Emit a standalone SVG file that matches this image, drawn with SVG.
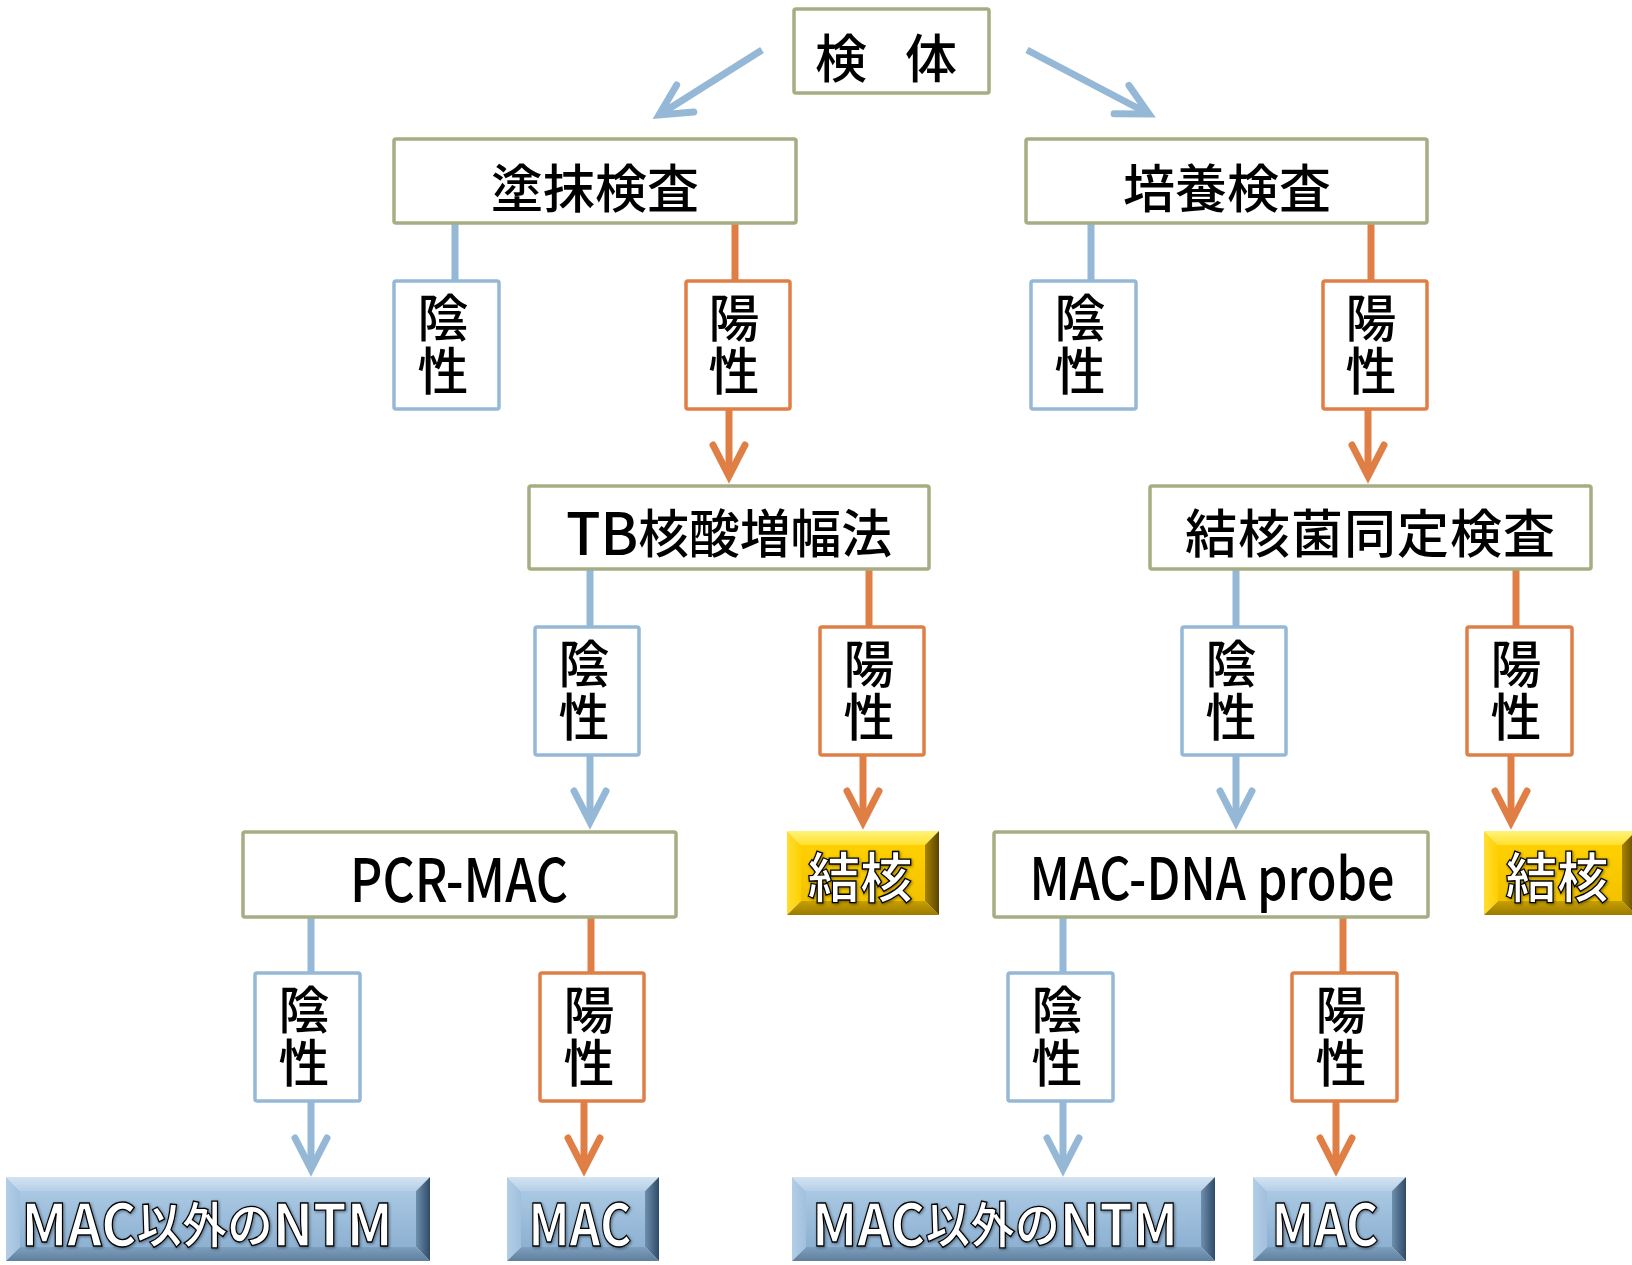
<svg xmlns="http://www.w3.org/2000/svg" width="1632" height="1265" viewBox="0 0 1632 1265">
<style>
.box{fill:#fff;stroke:#A7AD83;stroke-width:3.5}
.neg{fill:#fff;stroke:#95B8D7;stroke-width:3.5}
.pos{fill:#fff;stroke:#E07F45;stroke-width:3.5}
.t{font-family:"Noto Sans CJK JP","Noto Sans",sans-serif;font-weight:500;fill:#000;text-anchor:middle;dominant-baseline:central}
.v{font-family:"Noto Sans CJK JP","Noto Sans",sans-serif;font-weight:500;fill:#000;text-anchor:middle;writing-mode:vertical-rl;font-size:51px;letter-spacing:1.5px}
.lb{stroke:#95B8D7;stroke-width:7;fill:none}
.lo{stroke:#E07F45;stroke-width:7;fill:none}
.bt{font-family:"Noto Sans CJK JP","Noto Sans",sans-serif;font-weight:bold;fill:#fff;stroke:#000;stroke-width:1.3;text-anchor:middle;dominant-baseline:central;filter:url(#sh)}
</style>
<defs>
<marker id="mb" markerUnits="userSpaceOnUse" viewBox="-45 -25 60 50" markerWidth="60" markerHeight="50" refX="0" refY="0" orient="auto" overflow="visible">
<path d="M-31,-16 L0,0 L-31,16" fill="none" stroke="#95B8D7" stroke-width="7" stroke-linecap="round" stroke-linejoin="miter"/>
</marker>
<marker id="mo" markerUnits="userSpaceOnUse" viewBox="-45 -25 60 50" markerWidth="60" markerHeight="50" refX="0" refY="0" orient="auto" overflow="visible">
<path d="M-31,-16 L0,0 L-31,16" fill="none" stroke="#E07F45" stroke-width="7" stroke-linecap="round" stroke-linejoin="miter"/>
</marker>
<filter id="sh" x="-10%" y="-20%" width="120%" height="140%">
<feDropShadow dx="1" dy="1" stdDeviation="1.5" flood-color="#000" flood-opacity="0.45"/>
</filter>
<linearGradient id="bTop" x1="0" y1="0" x2="0" y2="1"><stop offset="0" stop-color="#D3E4F2"/><stop offset="1" stop-color="#B5CFE6"/></linearGradient>
<linearGradient id="bLeft" x1="0" y1="0" x2="1" y2="0"><stop offset="0" stop-color="#B3CEE6"/><stop offset="1" stop-color="#A0C0DD"/></linearGradient>
<linearGradient id="bFace" x1="0" y1="0" x2="0" y2="1"><stop offset="0" stop-color="#A9C8E3"/><stop offset="1" stop-color="#8DB1D2"/></linearGradient>
<linearGradient id="bBot" x1="0" y1="0" x2="0" y2="1"><stop offset="0" stop-color="#7E9FBE"/><stop offset="1" stop-color="#5F7F9E"/></linearGradient>
<linearGradient id="bRight" x1="0" y1="0" x2="1" y2="0"><stop offset="0" stop-color="#6F8FAF"/><stop offset="1" stop-color="#2E4B67"/></linearGradient>
<linearGradient id="yTop" x1="0" y1="0" x2="0" y2="1"><stop offset="0" stop-color="#FFF37A"/><stop offset="1" stop-color="#FFE030"/></linearGradient>
<linearGradient id="yLeft" x1="0" y1="0" x2="1" y2="0"><stop offset="0" stop-color="#FFDD33"/><stop offset="1" stop-color="#FFD000"/></linearGradient>
<linearGradient id="yFace" x1="0" y1="0" x2="0" y2="1"><stop offset="0" stop-color="#FFD000"/><stop offset="1" stop-color="#F2C200"/></linearGradient>
<linearGradient id="yBot" x1="0" y1="0" x2="0" y2="1"><stop offset="0" stop-color="#C8A000"/><stop offset="1" stop-color="#9A7A00"/></linearGradient>
<linearGradient id="yRight" x1="0" y1="0" x2="1" y2="0"><stop offset="0" stop-color="#A88400"/><stop offset="1" stop-color="#5A4500"/></linearGradient>
</defs>

<g id="connectors">
<line class="lb" x1="762" y1="50" x2="659" y2="115" marker-end="url(#mb)"/>
<line class="lb" x1="1027" y1="50" x2="1149" y2="114" marker-end="url(#mb)"/>
<line class="lb" x1="455" y1="223" x2="455" y2="281"/>
<line class="lo" x1="735" y1="223" x2="735" y2="281"/>
<line class="lb" x1="1091" y1="223" x2="1091" y2="281"/>
<line class="lo" x1="1371" y1="223" x2="1371" y2="281"/>
<line class="lo" x1="729" y1="409" x2="729" y2="476" marker-end="url(#mo)"/>
<line class="lo" x1="1368" y1="409" x2="1368" y2="476" marker-end="url(#mo)"/>
<line class="lb" x1="590" y1="569" x2="590" y2="627"/>
<line class="lo" x1="869" y1="569" x2="869" y2="627"/>
<line class="lb" x1="1236" y1="569" x2="1236" y2="627"/>
<line class="lo" x1="1516" y1="569" x2="1516" y2="627"/>
<line class="lb" x1="590" y1="755" x2="590" y2="822" marker-end="url(#mb)"/>
<line class="lo" x1="863" y1="755" x2="863" y2="822" marker-end="url(#mo)"/>
<line class="lb" x1="1236" y1="755" x2="1236" y2="822" marker-end="url(#mb)"/>
<line class="lo" x1="1511" y1="755" x2="1511" y2="822" marker-end="url(#mo)"/>
<line class="lb" x1="311" y1="917" x2="311" y2="973"/>
<line class="lo" x1="591" y1="917" x2="591" y2="973"/>
<line class="lb" x1="1063" y1="917" x2="1063" y2="973"/>
<line class="lo" x1="1343" y1="917" x2="1343" y2="973"/>
<line class="lb" x1="311" y1="1101" x2="311" y2="1169" marker-end="url(#mb)"/>
<line class="lo" x1="584" y1="1101" x2="584" y2="1169" marker-end="url(#mo)"/>
<line class="lb" x1="1063" y1="1101" x2="1063" y2="1169" marker-end="url(#mb)"/>
<line class="lo" x1="1336" y1="1101" x2="1336" y2="1169" marker-end="url(#mo)"/>
</g>

<g id="specimen"><rect class="box" x="794" y="9" width="195" height="84" rx="2"/><text class="t" x="886" y="55" font-size="52" textLength="142" lengthAdjust="spacing">検　体</text></g>
<g id="smear"><rect class="box" x="394" y="139" width="402" height="84" rx="2"/><text class="t" x="595" y="185" font-size="52">塗抹検査</text></g>
<g id="culture"><rect class="box" x="1026" y="139" width="401" height="84" rx="2"/><text class="t" x="1227" y="185" font-size="52">培養検査</text></g>

<g id="smear-neg"><rect class="neg" x="394" y="281" width="105" height="128" rx="2"/><text class="v" x="443" y="345">陰性</text></g>
<g id="smear-pos"><rect class="pos" x="686" y="281" width="104" height="128" rx="2"/><text class="v" x="734" y="345">陽性</text></g>
<g id="culture-neg"><rect class="neg" x="1031" y="281" width="105" height="128" rx="2"/><text class="v" x="1080" y="345">陰性</text></g>
<g id="culture-pos"><rect class="pos" x="1323" y="281" width="104" height="128" rx="2"/><text class="v" x="1371" y="345">陽性</text></g>

<g id="tb-naat"><rect class="box" x="529" y="486" width="400" height="83" rx="2"/><text class="t" x="729" y="530" font-size="52" textLength="326" lengthAdjust="spacingAndGlyphs"><tspan font-size="58">TB</tspan>核酸増幅法</text></g>
<g id="tb-ident"><rect class="box" x="1150" y="486" width="441" height="83" rx="2"/><text class="t" x="1370" y="530" font-size="52" textLength="370" lengthAdjust="spacing">結核菌同定検査</text></g>

<g id="naat-neg"><rect class="neg" x="535" y="627" width="104" height="128" rx="2"/><text class="v" x="584" y="691">陰性</text></g>
<g id="naat-pos"><rect class="pos" x="820" y="627" width="104" height="128" rx="2"/><text class="v" x="869" y="691">陽性</text></g>
<g id="ident-neg"><rect class="neg" x="1182" y="627" width="104" height="128" rx="2"/><text class="v" x="1231" y="691">陰性</text></g>
<g id="ident-pos"><rect class="pos" x="1467" y="627" width="105" height="128" rx="2"/><text class="v" x="1516" y="691">陽性</text></g>

<g id="pcr-mac"><rect class="box" x="243" y="832" width="433" height="85" rx="2"/><text class="t" x="459" y="875" font-size="60" textLength="218" lengthAdjust="spacingAndGlyphs">PCR-MAC</text></g>
<g id="tb-result-1">
<polygon fill="url(#yTop)" points="787,831 939,831 925,845 801,845"/>
<polygon fill="url(#yLeft)" points="787,831 801,845 801,901 787,915"/>
<polygon fill="url(#yBot)" points="787,915 801,901 925,901 939,915"/>
<polygon fill="url(#yRight)" points="939,831 939,915 925,901 925,845"/>
<rect fill="url(#yFace)" x="801" y="845" width="124" height="56"/>
<text class="bt" x="860" y="874" font-size="54" textLength="105" lengthAdjust="spacingAndGlyphs">結核</text>
</g>
<g id="mac-dna"><rect class="box" x="994" y="832" width="434" height="85" rx="2"/><text class="t" x="1212" y="875" font-size="58" textLength="365" lengthAdjust="spacingAndGlyphs">MAC-DNA probe</text></g>
<g id="tb-result-2">
<polygon fill="url(#yTop)" points="1484,831 1636,831 1622,845 1498,845"/>
<polygon fill="url(#yLeft)" points="1484,831 1498,845 1498,901 1484,915"/>
<polygon fill="url(#yBot)" points="1484,915 1498,901 1622,901 1636,915"/>
<polygon fill="url(#yRight)" points="1636,831 1636,915 1622,901 1622,845"/>
<rect fill="url(#yFace)" x="1498" y="845" width="124" height="56"/>
<text class="bt" x="1557" y="874" font-size="54" textLength="103" lengthAdjust="spacingAndGlyphs">結核</text>
</g>

<g id="pcr-neg"><rect class="neg" x="255" y="973" width="105" height="128" rx="2"/><text class="v" x="304" y="1037">陰性</text></g>
<g id="pcr-pos"><rect class="pos" x="540" y="973" width="104" height="128" rx="2"/><text class="v" x="589" y="1037">陽性</text></g>
<g id="probe-neg"><rect class="neg" x="1008" y="973" width="105" height="128" rx="2"/><text class="v" x="1057" y="1037">陰性</text></g>
<g id="probe-pos"><rect class="pos" x="1292" y="973" width="105" height="128" rx="2"/><text class="v" x="1341" y="1037">陽性</text></g>

<g id="ntm-1">
<polygon fill="url(#bTop)" points="6,1177 430,1177 416,1191 20,1191"/>
<polygon fill="url(#bLeft)" points="6,1177 20,1191 20,1247 6,1261"/>
<polygon fill="url(#bBot)" points="6,1261 20,1247 416,1247 430,1261"/>
<polygon fill="url(#bRight)" points="430,1177 430,1261 416,1247 416,1191"/>
<rect fill="url(#bFace)" x="20" y="1191" width="396" height="56"/>
<text class="bt" x="207" y="1221" font-size="58" textLength="371" lengthAdjust="spacingAndGlyphs">MAC<tspan font-size="49">以外の</tspan>NTM</text>
</g>
<g id="mac-1">
<polygon fill="url(#bTop)" points="507,1177 659,1177 645,1191 521,1191"/>
<polygon fill="url(#bLeft)" points="507,1177 521,1191 521,1247 507,1261"/>
<polygon fill="url(#bBot)" points="507,1261 521,1247 645,1247 659,1261"/>
<polygon fill="url(#bRight)" points="659,1177 659,1261 645,1247 645,1191"/>
<rect fill="url(#bFace)" x="521" y="1191" width="124" height="56"/>
<text class="bt" x="580" y="1221" font-size="58" textLength="103" lengthAdjust="spacingAndGlyphs">MAC</text>
</g>
<g id="ntm-2">
<polygon fill="url(#bTop)" points="792,1177 1215,1177 1201,1191 806,1191"/>
<polygon fill="url(#bLeft)" points="792,1177 806,1191 806,1247 792,1261"/>
<polygon fill="url(#bBot)" points="792,1261 806,1247 1201,1247 1215,1261"/>
<polygon fill="url(#bRight)" points="1215,1177 1215,1261 1201,1247 1201,1191"/>
<rect fill="url(#bFace)" x="806" y="1191" width="395" height="56"/>
<text class="bt" x="995" y="1221" font-size="58" textLength="366" lengthAdjust="spacingAndGlyphs">MAC<tspan font-size="49">以外の</tspan>NTM</text>
</g>
<g id="mac-2">
<polygon fill="url(#bTop)" points="1253,1177 1406,1177 1392,1191 1267,1191"/>
<polygon fill="url(#bLeft)" points="1253,1177 1267,1191 1267,1247 1253,1261"/>
<polygon fill="url(#bBot)" points="1253,1261 1267,1247 1392,1247 1406,1261"/>
<polygon fill="url(#bRight)" points="1406,1177 1406,1261 1392,1247 1392,1191"/>
<rect fill="url(#bFace)" x="1267" y="1191" width="125" height="56"/>
<text class="bt" x="1325" y="1221" font-size="58" textLength="107" lengthAdjust="spacingAndGlyphs">MAC</text>
</g>
</svg>
